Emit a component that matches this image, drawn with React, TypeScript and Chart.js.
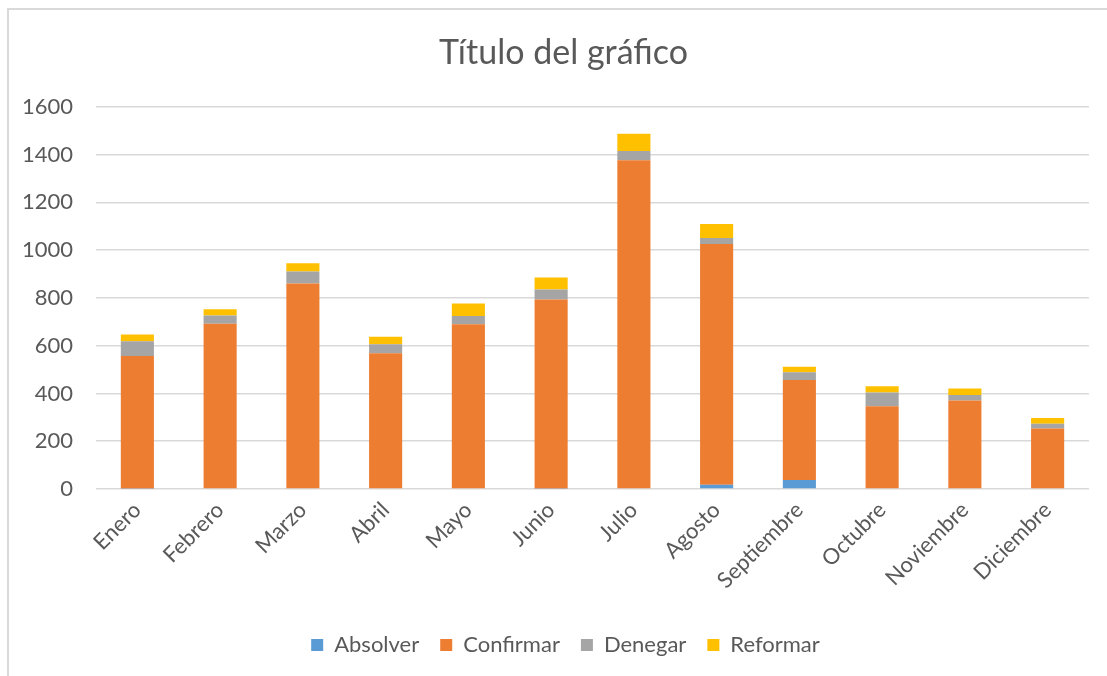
import React, { useEffect, useRef } from "react";
import { Chart, registerables } from "chart.js";

Chart.register(...registerables);

const months = ["Enero", "Febrero", "Marzo", "Abril", "Mayo", "Junio", "Julio", "Agosto", "Septiembre", "Octubre", "Noviembre", "Diciembre"];
const absolver = [2, 0, 0, 0, 0, 2, 0, 18, 38, 0, 0, 0];
const confirmar = [555, 692, 860, 568, 690, 791, 1376, 1008, 418, 346, 371, 253];
const denegar = [62, 34, 51, 38, 34, 42, 39, 25, 33, 58, 22, 20];
const reformar = [28, 26, 34, 31, 53, 50, 72, 58, 23, 26, 28, 24];
const yTicks = [0, 200, 400, 600, 800, 1000, 1200, 1400, 1600];

const FONT = "Lato, 'Open Sans', sans-serif";
const TEXT = "#595959";

// Excel centres the title and legend on the whole chart frame, which is a bit
// wider than the visible window; shift those boxes to match.
const shiftBoxes = {
  id: "shiftBoxes",
  afterLayout(chart: any) {
    const t = chart.titleBlock;
    if (t) {
      t.left += 19;
      t.right += 19;
    }
    const l = chart.legend;
    if (l) {
      l.left += 21;
      l.right += 21;
    }
  },
};

export default function App() {
  const ref = useRef<HTMLCanvasElement | null>(null);
  useEffect(() => {
    if (!ref.current) return;
    const chart = new Chart(ref.current, {
      type: "bar",
      data: {
        labels: months,
        datasets: [
          { label: "Absolver", data: absolver, backgroundColor: "#5B9BD5" },
          { label: "Confirmar", data: confirmar, backgroundColor: "#ED7D31" },
          { label: "Denegar", data: denegar, backgroundColor: "#A5A5A5" },
          { label: "Reformar", data: reformar, backgroundColor: "#FFC000" },
        ],
      },
      plugins: [shiftBoxes],
      options: {
        responsive: false,
        animation: false,
        layout: { padding: { left: 0, right: 18, top: 8, bottom: 10 } },
        datasets: { bar: { categoryPercentage: 1, barPercentage: 0.4, borderWidth: 0 } },
        plugins: {
          title: {
            display: true,
            text: "Título del gráfico",
            color: TEXT,
            font: { family: FONT, size: 34, weight: "normal", lineHeight: 1.2 },
            padding: { top: 25, bottom: 33 },
          },
          legend: {
            position: "bottom",
            labels: {
              color: TEXT,
              font: { family: FONT, size: 22 },
              boxWidth: 12,
              boxHeight: 12,
              padding: 21,
            },
          },
          tooltip: { enabled: false },
        },
        scales: {
          x: {
            stacked: true,
            grid: { display: false, drawTicks: false },
            border: { display: false },
            afterFit: (scale: any) => {
              scale.height = 124;
            },
            ticks: {
              color: TEXT,
              font: { family: FONT, size: 22 },
              minRotation: 45,
              maxRotation: 45,
              padding: 8,
            },
          },
          y: {
            stacked: true,
            min: 0,
            max: 1600,
            afterBuildTicks: (scale: any) => {
              scale.ticks = yTicks.map((v) => ({ value: v }));
            },
            afterFit: (scale: any) => {
              scale.width = 96;
            },
            grid: { color: "#d9d9d9", lineWidth: 1.5, drawTicks: false },
            border: { display: false },
            ticks: {
              color: TEXT,
              font: { family: FONT, size: 22 },
              padding: 23,
              callback: (v: any) => String(v),
            },
          },
        },
      },
    });
    return () => chart.destroy();
  }, []);
  return (
    <div style={{ position: "fixed", left: 0, top: 0, width: 1107, height: 676, background: "#fff", overflow: "hidden" }}>
      <div style={{ position: "absolute", left: 7, top: 8, width: 1200, height: 800, borderLeft: "2px solid #d9d9d9", borderTop: "2px solid #d9d9d9" }} />
      <canvas ref={ref} width={1107} height={676} style={{ position: "absolute", left: 0, top: 0 }} />
    </div>
  );
}
